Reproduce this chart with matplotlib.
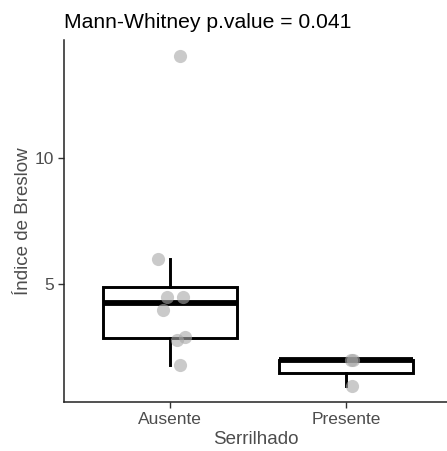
import matplotlib
matplotlib.use("Agg")
import matplotlib.pyplot as plt

plt.rcParams['font.family'] = ['Liberation Sans', 'DejaVu Sans']

categories = ["Ausente", "Presente"]
ausente = [14.0, 6.0, 4.5, 4.5, 4.0, 2.9, 2.8, 1.8]
presente = [2.0, 2.0, 1.0]
# horizontal jitter applied to the individual points
ausente_jitter = [0.057, -0.068, -0.017, 0.074, -0.04, 0.085, 0.04, 0.057]
presente_jitter = [0.04, 0.028, 0.034]
yticks = [5, 10]
title = "Mann-Whitney p.value = 0.041"
xlabel = "Serrilhado"
ylabel = "Índice de Breslow"

W, H = 447, 451
fig = plt.figure(figsize=(W / 100, H / 100), dpi=100)
ax = fig.add_axes([64 / W, (H - 402) / H, (W - 64) / W, (402 - 40) / H])

groups = [ausente, presente]
box_lw = 2.1
ax.boxplot(groups, positions=[1, 2], widths=0.76, whis=1.5, showfliers=False,
           patch_artist=True,
           boxprops=dict(facecolor="white", edgecolor="black", linewidth=box_lw),
           whiskerprops=dict(color="black", linewidth=box_lw),
           capprops=dict(linewidth=0),
           medianprops=dict(color="black", linewidth=4.2, solid_capstyle="butt"),
           zorder=2)

for i, (vals, jit) in enumerate([(ausente, ausente_jitter), (presente, presente_jitter)]):
    xs = [i + 1 + j for j in jit]
    ax.scatter(xs, vals, s=90, color="#a8a8a8", alpha=0.6, linewidths=0, zorder=3)

ax.set_xlim(1 - 106 / 176, 2 + 101 / 176)
ax.set_ylim(0.35, 14.65)
ax.set_xticks([1, 2])
ax.set_xticklabels(categories)
ax.set_yticks(yticks)

for side in ["top", "right"]:
    ax.spines[side].set_visible(False)
for side in ["left", "bottom"]:
    ax.spines[side].set_color("#222222")
    ax.spines[side].set_linewidth(1.1)

ax.tick_params(axis="both", colors="#333333", length=4, width=1.0,
               labelsize=12.5, labelcolor="#4d4d4d", pad=3)
ax.set_xlabel(xlabel, fontsize=13.5, color="#4d4d4d", labelpad=3)
ax.set_ylabel(ylabel, fontsize=13.5, color="#4d4d4d", labelpad=2)
ax.set_title(title, fontsize=15.2, color="black", loc="left", pad=9)

fig.savefig("out.png", dpi=100, facecolor="white")
